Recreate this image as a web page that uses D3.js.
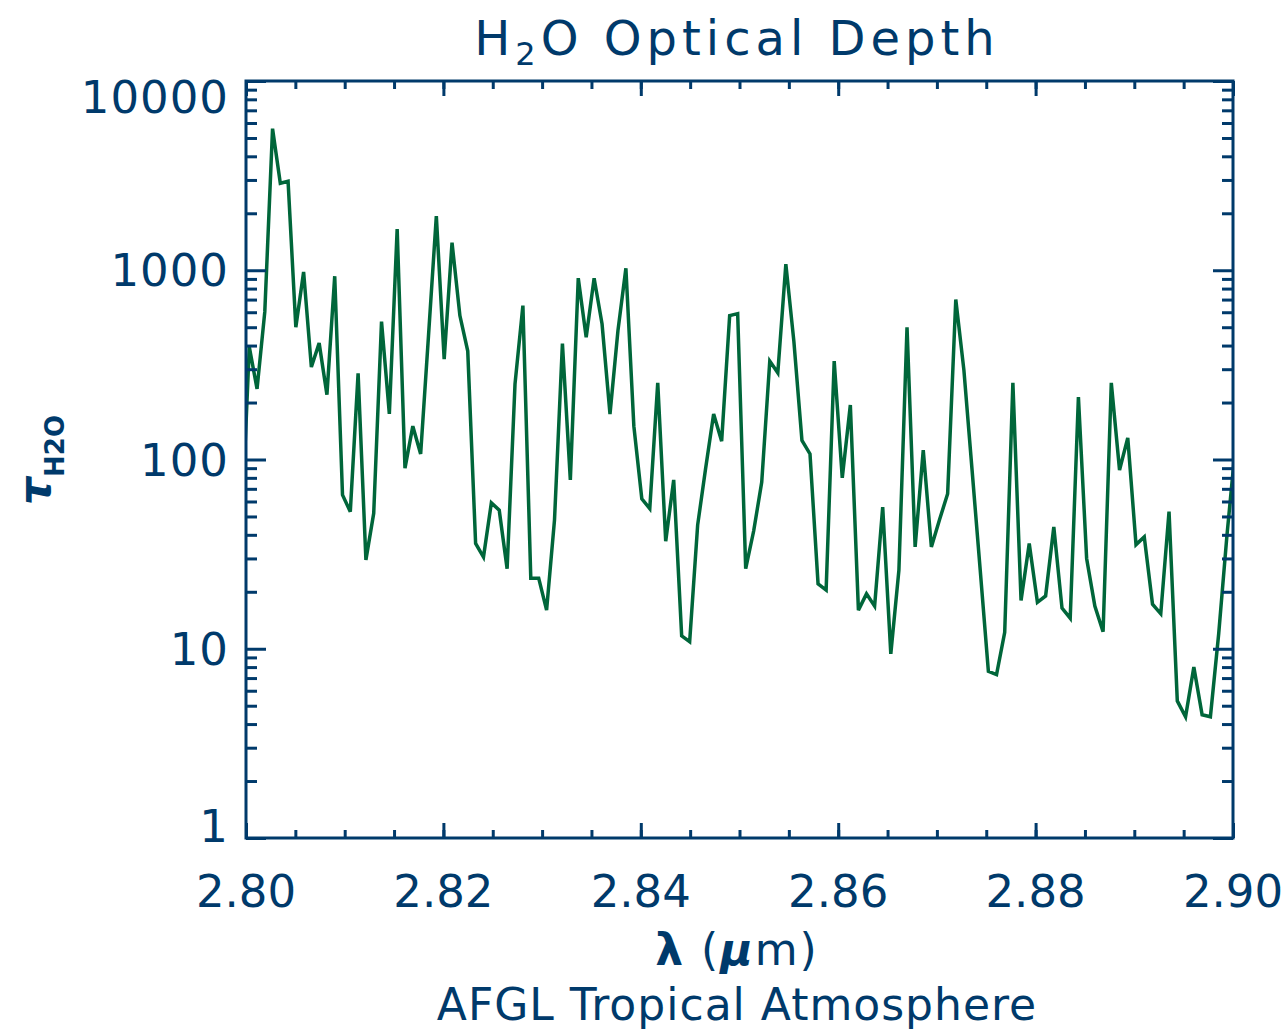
<!DOCTYPE html>
<html>
<head>
<meta charset="utf-8">
<script src="https://cdn.jsdelivr.net/npm/d3@7"></script>
<style>
  body { margin: 0; background: #fff; }
  text { font-family: "DejaVu Sans", sans-serif; fill: #003a6b; }
</style>
</head>
<body>
<script>
// wavenumber grid (cm-1) of the model, converted to wavelength below
var wavenumbers = [3572, 3571, 3570, 3569, 3568, 3567, 3566, 3565, 3564, 3563,
  3562, 3561, 3560, 3559, 3558, 3557, 3556, 3555, 3554, 3553,
  3552, 3551, 3550, 3549, 3548, 3547, 3546, 3545, 3544, 3543,
  3542, 3541, 3540, 3539, 3538, 3537, 3536, 3535, 3534, 3533,
  3532, 3531, 3530, 3529, 3528, 3527, 3526, 3525, 3524, 3523,
  3522, 3521, 3520, 3519, 3518, 3517, 3516, 3515, 3514, 3513,
  3512, 3511, 3510, 3509, 3508, 3507, 3506, 3505, 3504, 3503,
  3502, 3501, 3500, 3499, 3498, 3497, 3496, 3495, 3494, 3493,
  3492, 3491, 3490, 3489, 3488, 3487, 3486, 3485, 3484, 3483,
  3482, 3481, 3480, 3479, 3478, 3477, 3476, 3475, 3474, 3473,
  3472, 3471, 3470, 3469, 3468, 3467, 3466, 3465, 3464, 3463,
  3462, 3461, 3460, 3459, 3458, 3457, 3456, 3455, 3454, 3453,
  3452, 3451, 3450, 3449, 3448];

// optical depth
var tau = [44, 393, 236, 604, 5600, 2880, 2950, 500, 980, 308,
  412, 220, 930, 65, 53, 285, 29.5, 52, 535, 174,
  1650, 90, 150, 107, 450, 1930, 339, 1400, 576, 374,
  36, 30.5, 59, 54, 26.5, 250, 650, 23.6, 23.6, 16,
  48, 410, 78, 908, 443, 908, 520, 174, 480, 1025,
  150, 62, 55, 254, 37, 78, 11.7, 10.9, 45, 90,
  174, 125, 576, 590, 26.5, 42, 76, 331, 287, 1077,
  420, 126, 107, 22, 20.4, 331, 80, 194, 16, 19.5,
  16.8, 56, 9.4, 26, 500, 34.5, 112, 34.5, 48, 66,
  700, 296, 88, 26, 7.6, 7.3, 12.2, 254, 18, 36,
  17.6, 19, 44, 16.4, 14.5, 214, 30, 16.8, 12.3, 254,
  88, 130, 35.5, 39, 17.2, 15.3, 53, 5.3, 4.37, 8.0,
  4.48, 4.37, 12, 40, 115];

var xTicks = [2.80, 2.82, 2.84, 2.86, 2.88, 2.90];
var yTicks = [1, 10, 100, 1000, 10000];

var width = 1287, height = 1034;
var plotLeft = 246, plotRight = 1233, plotTop = 81, plotBottom = 838;
var ink = "#003a6b";

var svg = d3.select("body").append("svg")
  .attr("width", width)
  .attr("height", height);

var xScale = d3.scaleLinear().domain([2.80, 2.90]).range([plotLeft, plotRight]);
var yScale = d3.scaleLog().domain([1, 10000]).range([plotBottom, plotTop]);

var data = wavenumbers.map(function(wn, i){
  return {lambda: 1e4 / wn, tau: tau[i]};
});

svg.append("clipPath").attr("id", "clip")
  .append("rect")
  .attr("x", plotLeft).attr("y", plotTop)
  .attr("width", plotRight - plotLeft).attr("height", plotBottom - plotTop);

var line = d3.line()
  .x(function(d){ return xScale(d.lambda); })
  .y(function(d){ return yScale(d.tau); });

svg.append("path")
  .datum(data)
  .attr("clip-path", "url(#clip)")
  .attr("fill", "none")
  .attr("stroke", "#00663a")
  .attr("stroke-width", 3.5)
  .attr("d", line);

// minor ticks (x every 0.005, y at 2..9 in each decade)
var xMinor = d3.range(0, 21).map(function(k){ return 2.80 + k * 0.005; });
var yMinor = yScale.ticks().filter(function(v){ return yTicks.indexOf(v) < 0; });

function styleAxis(g){
  g.select(".domain").remove();
  g.selectAll("line").attr("stroke", ink).attr("stroke-width", 3);
  g.selectAll("text").remove();
}

svg.append("g").attr("transform", "translate(0," + plotBottom + ")")
  .call(d3.axisBottom(xScale).tickValues(xMinor).tickSize(-8)).call(styleAxis);
svg.append("g").attr("transform", "translate(0," + plotBottom + ")")
  .call(d3.axisBottom(xScale).tickValues(xTicks).tickSize(-15)).call(styleAxis);
svg.append("g").attr("transform", "translate(0," + plotTop + ")")
  .call(d3.axisTop(xScale).tickValues(xMinor).tickSize(-8)).call(styleAxis);
svg.append("g").attr("transform", "translate(0," + plotTop + ")")
  .call(d3.axisTop(xScale).tickValues(xTicks).tickSize(-15)).call(styleAxis);

svg.append("g").attr("transform", "translate(" + plotLeft + ",0)")
  .call(d3.axisLeft(yScale).tickValues(yMinor).tickSize(-11)).call(styleAxis);
svg.append("g").attr("transform", "translate(" + plotLeft + ",0)")
  .call(d3.axisLeft(yScale).tickValues(yTicks).tickSize(-20)).call(styleAxis);
svg.append("g").attr("transform", "translate(" + plotRight + ",0)")
  .call(d3.axisRight(yScale).tickValues(yMinor).tickSize(-11)).call(styleAxis);
svg.append("g").attr("transform", "translate(" + plotRight + ",0)")
  .call(d3.axisRight(yScale).tickValues(yTicks).tickSize(-20)).call(styleAxis);

// frame
svg.append("rect")
  .attr("x", plotLeft).attr("y", plotTop)
  .attr("width", plotRight - plotLeft).attr("height", plotBottom - plotTop)
  .attr("fill", "none").attr("stroke", ink).attr("stroke-width", 3);

// tick labels
svg.selectAll(".xlab")
  .data(xTicks)
  .enter().append("text")
  .attr("x", function(d){ return xScale(d); })
  .attr("y", 907)
  .attr("text-anchor", "middle")
  .attr("font-size", 45)
  .text(function(d){ return d3.format(".2f")(d); });

svg.selectAll(".ylab")
  .data(yTicks)
  .enter().append("text")
  .attr("x", 229)
  .attr("y", function(d){
    var y = yScale(d) + 16;
    if (d === 10000) y += 16;
    if (d === 1) y -= 12;
    return y;
  })
  .attr("text-anchor", "end")
  .attr("font-size", 45)
  .attr("letter-spacing", 1)
  .text(function(d){ return d; });

// title
var title = svg.append("text")
  .attr("x", 737).attr("y", 55)
  .attr("text-anchor", "middle")
  .attr("font-size", 48)
  .attr("letter-spacing", 5);
title.append("tspan").text("H");
title.append("tspan").attr("font-size", 32).attr("dy", 10).text("2");
title.append("tspan").attr("dy", -10).text("O Optical Depth");

// x axis label
var xlab = svg.append("text")
  .attr("x", 737).attr("y", 965)
  .attr("text-anchor", "middle")
  .attr("font-size", 44)
  .attr("letter-spacing", 2);
xlab.append("tspan").attr("font-weight", "bold").text("λ");
xlab.append("tspan").text(" (");
xlab.append("tspan").attr("font-style", "italic").attr("font-weight", "bold").text("μ");
xlab.append("tspan").text("m)");

svg.append("text")
  .attr("x", 737).attr("y", 1020)
  .attr("text-anchor", "middle")
  .attr("font-size", 44)
  .attr("letter-spacing", 1)
  .text("AFGL Tropical Atmosphere");

// y axis label
var ylab = svg.append("text")
  .attr("transform", "translate(50,460) rotate(-90)")
  .attr("text-anchor", "middle")
  .attr("font-size", 44)
  .attr("font-weight", "bold");
ylab.append("tspan").attr("font-style", "italic").text("τ");
ylab.append("tspan").attr("font-size", 26).attr("dy", 14).text("H2O");
</script>
</body>
</html>
